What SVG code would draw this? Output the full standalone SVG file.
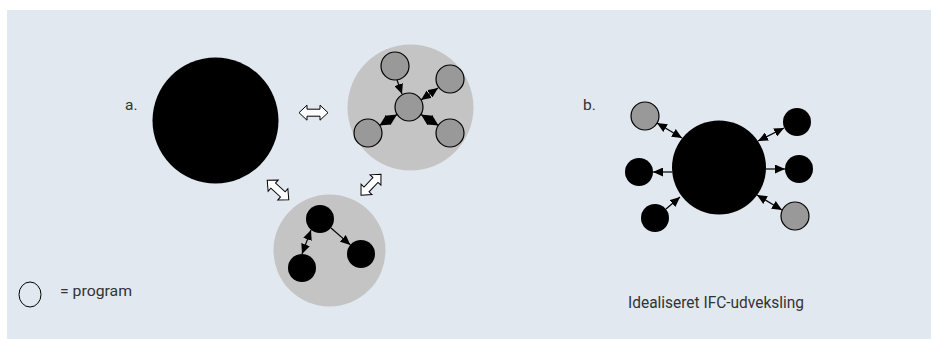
<svg xmlns="http://www.w3.org/2000/svg" width="931" height="339" viewBox="0 0 931 339">
<style>
.lbl{font-family:Roboto,"Liberation Sans",sans-serif;fill:#333}
.con{stroke:#000;stroke-width:1.2;fill:none}
.gc{fill:#999;stroke:#000;stroke-width:1.2}
.bc{fill:#000}
.grp{fill:#c4c4c4}
.hollow{fill:#fff;stroke:#000;stroke-width:1}
</style>
<defs>
<marker id="ah" markerUnits="userSpaceOnUse" markerWidth="10" markerHeight="9" refX="10" refY="4.5" orient="auto-start-reverse" viewBox="0 0 10 9">
<path d="M0,0 L10,4.5 L0,9 Z" fill="#000"/>
</marker>
<marker id="ahb" markerUnits="userSpaceOnUse" markerWidth="11" markerHeight="11" refX="11" refY="5.5" orient="auto-start-reverse" viewBox="0 0 11 11">
<path d="M0,0 L11,5.5 L0,11 Z" fill="#000"/>
</marker>
<path id="dbl" d="M-14.5,0 L-6.5,-7.5 L-6.5,-3.5 L6.5,-3.5 L6.5,-7.5 L14.5,0 L6.5,7.5 L6.5,3.5 L-6.5,3.5 L-6.5,7.5 Z"/>
</defs>
<rect x="7" y="10" width="924" height="329" fill="#e1e8ef"/>

<text class="lbl" x="125" y="110" font-size="15.5">a.</text>
<text class="lbl" x="583" y="110" font-size="15.5">b.</text>

<g id="node-a-main"><circle class="bc" cx="215.5" cy="120.5" r="63"/></g>

<g id="node-cluster-gray">
<circle class="grp" cx="410.5" cy="107.5" r="63"/>
<circle class="gc" cx="395" cy="66" r="14"/>
<circle class="gc" cx="409" cy="107" r="14"/>
<circle class="gc" cx="450" cy="79" r="14"/>
<circle class="gc" cx="368" cy="133" r="14"/>
<circle class="gc" cx="450" cy="133" r="14"/>
</g>

<g id="node-cluster-black">
<circle class="grp" cx="329.5" cy="250.5" r="56"/>
<circle class="bc" cx="320" cy="219" r="14"/>
<circle class="bc" cx="361" cy="254" r="14"/>
<circle class="bc" cx="302" cy="268" r="14"/>
</g>

<g id="node-b">
<circle class="bc" cx="719" cy="167.5" r="47"/>
<circle class="gc" cx="645" cy="116" r="14"/>
<circle class="bc" cx="797" cy="122" r="14"/>
<circle class="bc" cx="639" cy="172" r="14"/>
<circle class="bc" cx="799" cy="169" r="14"/>
<circle class="bc" cx="655" cy="218" r="14"/>
<circle class="gc" cx="795" cy="216" r="14"/>
</g>

<g id="connectors">
<line class="con" x1="397" y1="80" x2="402" y2="94" marker-end="url(#ah)"/>
<line class="con" x1="421" y1="100" x2="438" y2="88" marker-start="url(#ah)" marker-end="url(#ah)"/>
<line class="con" x1="397" y1="114.5" x2="379.5" y2="125.5" marker-start="url(#ahb)" marker-end="url(#ahb)"/>
<line class="con" x1="421" y1="114.5" x2="438.5" y2="125.5" marker-start="url(#ahb)" marker-end="url(#ahb)"/>
<line class="con" x1="331" y1="228" x2="350.4" y2="244.9" marker-end="url(#ah)"/>
<line class="con" x1="311" y1="230" x2="302" y2="254" marker-start="url(#ah)" marker-end="url(#ah)"/>
<line class="con" x1="657" y1="123" x2="682" y2="138" marker-start="url(#ah)" marker-end="url(#ah)"/>
<line class="con" x1="784" y1="128" x2="758" y2="141" marker-start="url(#ah)" marker-end="url(#ah)"/>
<line class="con" x1="672" y1="172" x2="653" y2="172" marker-end="url(#ah)"/>
<line class="con" x1="766" y1="169" x2="785" y2="169" marker-end="url(#ah)"/>
<line class="con" x1="666" y1="209" x2="680" y2="197" marker-end="url(#ah)"/>
<line class="con" x1="757" y1="195" x2="782" y2="210" marker-start="url(#ah)" marker-end="url(#ah)"/>
<use href="#dbl" class="hollow" transform="translate(313.5,112.7)"/>
<use href="#dbl" class="hollow" transform="translate(278,190) rotate(42)"/>
<use href="#dbl" class="hollow" transform="translate(371,184.7) rotate(-46.5)"/>
</g>

<g id="legend">
<ellipse cx="30" cy="294.5" rx="11" ry="12.5" fill="none" stroke="#000" stroke-width="1"/>
<text class="lbl" x="60" y="296" font-size="14" textLength="72" lengthAdjust="spacingAndGlyphs">= program</text>
</g>

<text class="lbl" x="628" y="308" font-size="16" textLength="176" lengthAdjust="spacingAndGlyphs">Idealiseret IFC-udveksling</text>
</svg>
